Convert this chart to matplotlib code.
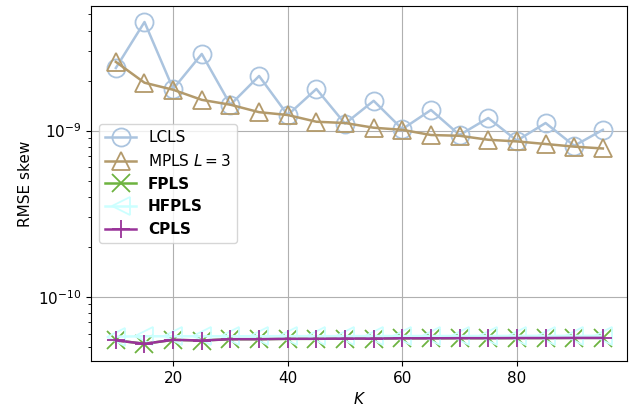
import matplotlib
matplotlib.use("Agg")
import matplotlib.pyplot as plt

K = [10, 15, 20, 25, 30, 35, 40, 45, 50, 55, 60, 65, 70, 75, 80, 85, 90, 95]

lcls = [2.38e-9, 4.5e-9, 1.78e-9, 2.89e-9, 1.43e-9, 2.13e-9, 1.24e-9, 1.78e-9, 1.10e-9,
        1.51e-9, 1.02e-9, 1.33e-9, 0.94e-9, 1.19e-9, 0.87e-9, 1.11e-9, 0.81e-9, 1.01e-9]
mpls = [2.59e-9, 1.94e-9, 1.76e-9, 1.53e-9, 1.43e-9, 1.29e-9, 1.24e-9, 1.13e-9, 1.11e-9,
        1.04e-9, 1.01e-9, 0.94e-9, 0.93e-9, 0.88e-9, 0.86e-9, 0.83e-9, 0.80e-9, 0.78e-9]
fpls = [5.46e-11, 5.21e-11, 5.50e-11, 5.45e-11, 5.55e-11, 5.55e-11, 5.58e-11, 5.58e-11, 5.60e-11,
        5.60e-11, 5.62e-11, 5.62e-11, 5.63e-11, 5.63e-11, 5.64e-11, 5.64e-11, 5.65e-11, 5.65e-11]
hfpls = [5.75e-11, 5.78e-11, 5.78e-11, 5.78e-11, 5.78e-11, 5.78e-11, 5.79e-11, 5.79e-11, 5.79e-11,
         5.80e-11, 5.80e-11, 5.80e-11, 5.80e-11, 5.80e-11, 5.81e-11, 5.81e-11, 5.81e-11, 5.81e-11]
cpls = [5.46e-11, 5.21e-11, 5.50e-11, 5.45e-11, 5.55e-11, 5.55e-11, 5.58e-11, 5.58e-11, 5.60e-11,
        5.60e-11, 5.62e-11, 5.62e-11, 5.63e-11, 5.63e-11, 5.64e-11, 5.64e-11, 5.65e-11, 5.65e-11]

plt.rcParams.update({'font.size': 11})

fig = plt.figure(figsize=(6.31, 4.15), dpi=100)
ax = fig.add_axes([0.145, 0.130, 0.849, 0.855])

style = dict(lw=1.8, ms=13, mew=1.3, mfc='none')
ax.plot(K, lcls, 'o-', color='#abc4df', label='LCLS', **style)
ax.plot(K, mpls, '^-', color='#b39a6b', label='MPLS $L=3$', **style)
ax.plot(K, fpls, 'x-', color='#6db33f', label='FPLS', **style)
ax.plot(K, hfpls, '<-', color='#ccffff', label='HFPLS', **style)
ax.plot(K, cpls, '+-', color='#993399', label='CPLS', **style)

ax.set_yscale('log')
ax.set_ylim(4.1e-11, 5.6e-9)
ax.grid(True, which='major')
ax.set_xlabel('$K$')
ax.set_ylabel('RMSE skew')

leg = ax.legend(loc='center left')
for t in leg.get_texts()[2:]:
    t.set_fontweight('bold')

plt.savefig('out.png', dpi=100)
